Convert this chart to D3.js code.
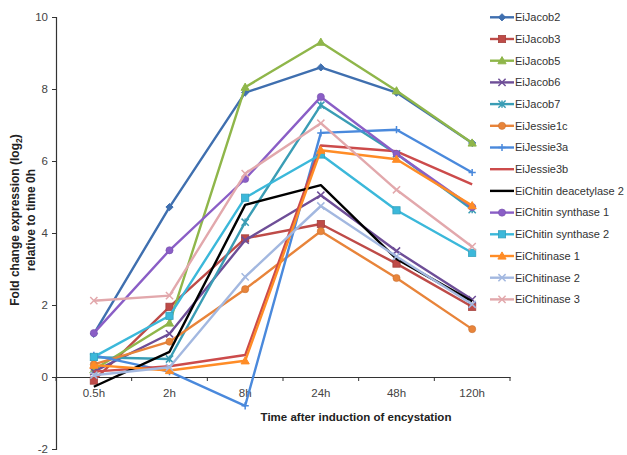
<!DOCTYPE html>
<html><head><meta charset="utf-8">
<script src="https://cdn.jsdelivr.net/npm/d3@7"></script>
<style>body{margin:0;background:#fff;} svg{display:block;font-family:"Liberation Sans",Arial,sans-serif;}</style>
</head><body>
<svg id="c" width="627" height="455"></svg>
<script>
const categories = ["0.5h","2h","8h","24h","48h","120h"];
const yTicks = [-2,0,2,4,6,8,10];
const seriesNames = ["EiJacob2","EiJacob3","EiJacob5","EiJacob6","EiJacob7","EiJessie1c","EiJessie3a","EiJessie3b","EiChitin deacetylase 2","EiChitin synthase 1","EiChitin synthase 2","EiChitinase 1","EiChitinase 2","EiChitinase 3"];
const jacob2 = [1.2, 4.72, 7.9, 8.6, 7.9, 6.5];
const jacob3 = [-0.1, 1.95, 3.85, 4.25, 3.15, 1.95];
const jacob5 = [0.2, 1.5, 8.05, 9.3, 7.95, 6.5];
const jacob6 = [0.15, 1.2, 3.8, 5.05, 3.5, 2.15];
const jacob7 = [0.55, 0.5, 4.3, 7.55, 6.2, 4.65];
const jessie1c = [0.35, 0.98, 2.44, 4.05, 2.75, 1.33];
const jessie3a = [0.6, 0.15, -0.8, 6.78, 6.87, 5.68];
const jessie3b = [0.15, 0.3, 0.61, 6.43, 6.27, 5.35];
const chitinDeacetylase2 = [-0.27, 0.7, 4.78, 5.33, 3.28, 2.1];
const chitinSynthase1 = [1.22, 3.52, 5.5, 7.78, 6.2, 4.72];
const chitinSynthase2 = [0.56, 1.7, 4.98, 6.18, 4.63, 3.45];
const chitinase1 = [0.33, 0.18, 0.45, 6.3, 6.05, 4.76];
const chitinase2 = [0.05, 0.27, 2.78, 4.75, 3.35, 2.02];
const chitinase3 = [2.12, 2.26, 5.65, 7.05, 5.2, 3.62];
const seriesValues = [jacob2,jacob3,jacob5,jacob6,jacob7,jessie1c,jessie3a,jessie3b,chitinDeacetylase2,chitinSynthase1,chitinSynthase2,chitinase1,chitinase2,chitinase3];

const colors = ["#3F6FAF","#BE4B48","#8FB64A","#6E4E97","#3A9DB5","#E8843A","#4A89DC","#CC4B4B","#000000","#8A5EC6","#3BB8DA","#FF8C26","#A3B8E0","#E2A8AC"];
const markers = ["diamond","square","triangle","x","asterisk","circle","plus","none","none","circle","square","triangle","x","x"];

const svg = d3.select("#c");
const x = d3.scaleBand().domain(categories).range([56, 510]);
const y = d3.scaleLinear().domain([-2, 10]).range([449, 17]);
const cx = d => x(d) + x.bandwidth()/2;

// axes
const yAxis = d3.axisLeft(y).tickValues(yTicks).tickSize(4).tickFormat(d => String(d));
const gy = svg.append("g").attr("transform","translate(56,0)").call(yAxis);
gy.select(".domain").attr("stroke","#333").attr("stroke-width",1.2);
gy.selectAll(".tick line").attr("stroke","#333");
gy.selectAll(".tick text").attr("fill","#444").attr("font-size",11.5).attr("x",-8);

const xAxis = d3.axisBottom(x).tickSize(0);
const gx = svg.append("g").attr("transform",`translate(0,${y(0)})`).call(xAxis);
gx.select(".domain").attr("stroke","#333").attr("stroke-width",1.2);
gx.selectAll(".tick text").attr("fill","#444").attr("font-size",11.5).attr("dy","1.45em");
// boundary tick marks
const bounds = categories.map(c => x(c)).concat([x.range()[1]]);
svg.append("g").selectAll("line").data(bounds).join("line")
  .attr("x1",d=>d).attr("x2",d=>d).attr("y1",y(0)).attr("y2",y(0)+4)
  .attr("stroke","#333").attr("stroke-width",1);

// titles
svg.append("text").attr("x",356).attr("y",421).attr("text-anchor","middle")
  .attr("font-size",11.5).attr("font-weight","bold").attr("fill","#222").text("Time after induction of encystation");
const yt = svg.append("text").attr("transform","translate(19,220) rotate(-90)").attr("text-anchor","middle")
  .attr("font-size",12).attr("font-weight","bold").attr("fill","#222");
yt.append("tspan").attr("x",0).attr("dy",0).text("Fold change expression (log");
yt.append("tspan").attr("font-size",8.5).attr("dy",3).text("2");
yt.append("tspan").attr("font-size",12).attr("dy",-3).text(")");
svg.append("text").attr("transform","translate(35,220) rotate(-90)").attr("text-anchor","middle")
  .attr("font-size",12).attr("font-weight","bold").attr("fill","#222").text("relative to time 0h");

function drawMarker(g, type, color, px, py) {
  const s = 3.6;
  if (type === "diamond") {
    g.append("path").attr("d",`M${px},${py-s}L${px+s},${py}L${px},${py+s}L${px-s},${py}Z`).attr("fill",color).attr("stroke",color);
  } else if (type === "square") {
    g.append("rect").attr("x",px-s).attr("y",py-s).attr("width",2*s).attr("height",2*s).attr("fill",color).attr("stroke",d3.color(color).darker(0.4)).attr("stroke-width",0.8);
  } else if (type === "triangle") {
    g.append("path").attr("d",`M${px},${py-s-0.5}L${px+s+0.5},${py+s-0.5}L${px-s-0.5},${py+s-0.5}Z`).attr("fill",color).attr("stroke",color);
  } else if (type === "circle") {
    g.append("circle").attr("cx",px).attr("cy",py).attr("r",s).attr("fill",color).attr("stroke",d3.color(color).darker(0.4)).attr("stroke-width",0.6);
  } else if (type === "x") {
    g.append("path").attr("d",`M${px-s},${py-s}L${px+s},${py+s}M${px-s},${py+s}L${px+s},${py-s}`).attr("stroke",color).attr("stroke-width",1.5);
  } else if (type === "asterisk") {
    g.append("path").attr("d",`M${px-s},${py-s}L${px+s},${py+s}M${px-s},${py+s}L${px+s},${py-s}M${px},${py-s}L${px},${py+s}`).attr("stroke",color).attr("stroke-width",1.5);
  } else if (type === "plus") {
    g.append("path").attr("d",`M${px-s},${py}L${px+s},${py}M${px},${py-s}L${px},${py+s}`).attr("stroke",color).attr("stroke-width",1.5);
  }
}

const line = d3.line().x((d,i)=>cx(categories[i])).y(d=>y(d));
const plot = svg.append("g");
seriesValues.forEach((vals, si) => {
  const g = plot.append("g");
  g.append("path").datum(vals).attr("d",line).attr("fill","none")
    .attr("stroke",colors[si]).attr("stroke-width",2.4).attr("stroke-linejoin","round");
  vals.forEach((v,i)=>drawMarker(g, markers[si], colors[si], cx(categories[i]), y(v)));
});

// legend
const legend = svg.append("g");
seriesNames.forEach((name, i) => {
  const ly = 17.3 + i*21.7;
  const g = legend.append("g");
  g.append("line").attr("x1",490).attr("x2",514).attr("y1",ly).attr("y2",ly).attr("stroke",colors[i]).attr("stroke-width",2.4);
  drawMarker(g, markers[i], colors[i], 502, ly);
  g.append("text").attr("x",515).attr("y",ly).attr("dy","0.35em").attr("font-size",11).attr("fill","#333").text(name);
});
</script>
</body></html>
